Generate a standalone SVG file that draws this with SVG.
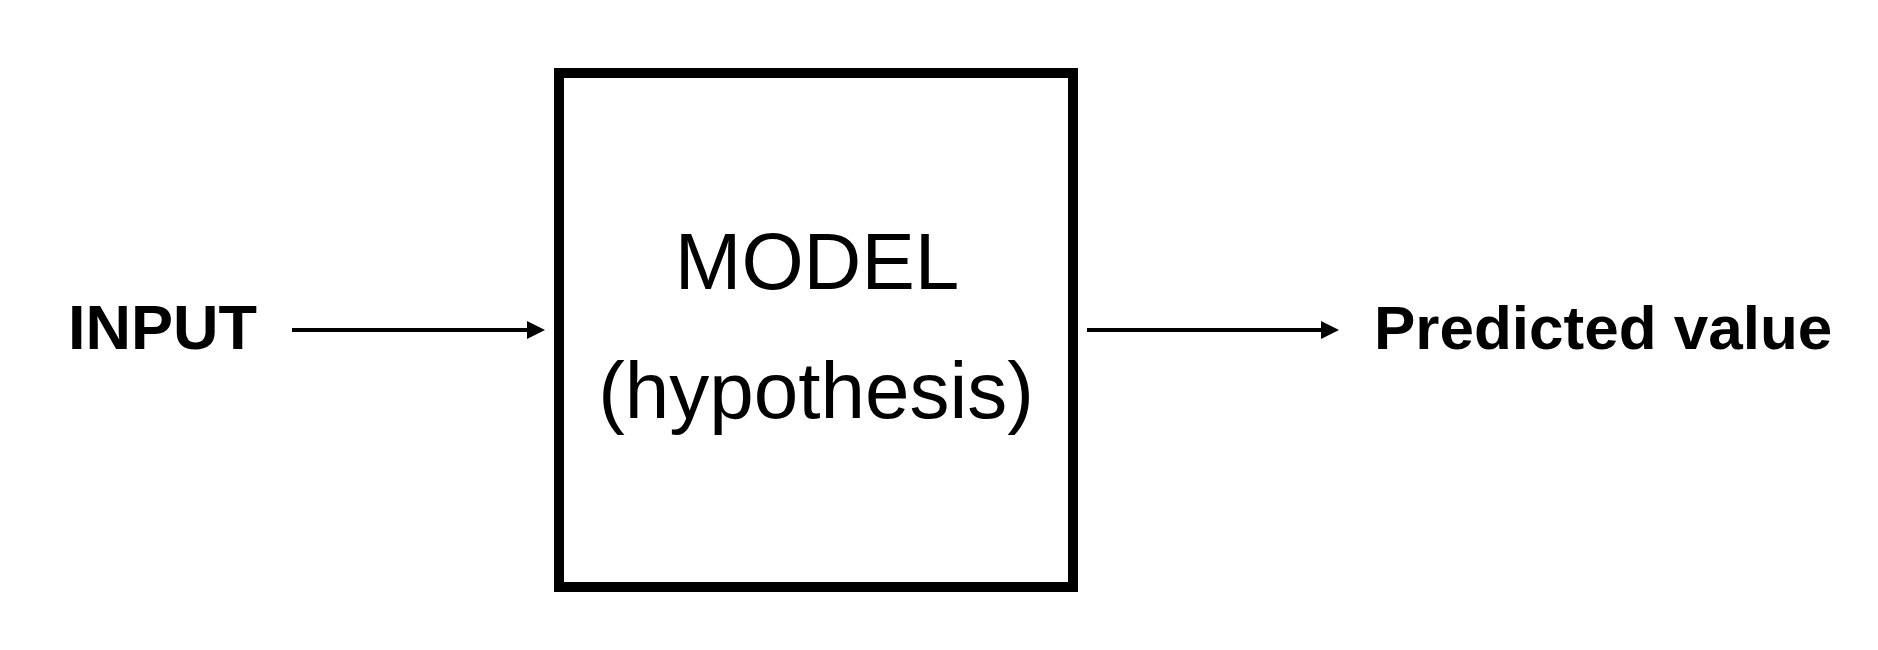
<svg xmlns="http://www.w3.org/2000/svg" width="1878" height="650" viewBox="0 0 1878 650">
<style>
.lbl{font-family:"Liberation Sans",Arial,sans-serif;fill:#000}
.side{font-size:63px;font-weight:bold}
.mid{font-size:80px}
.conn{stroke:#000;stroke-width:4;fill:none}
</style>
<defs>
<marker id="ah" markerWidth="18" markerHeight="18" refX="0" refY="9" orient="auto" markerUnits="userSpaceOnUse">
<path d="M0,0 L18,9 L0,18 Z" fill="#000"/>
</marker>
</defs>
<rect width="1878" height="650" fill="#fff"/>
<g id="input">
<text class="lbl side" x="68" y="349">INPUT</text>
</g>
<g id="model">
<rect x="559" y="73" width="514" height="514" fill="#fff" stroke="#000" stroke-width="10"/>
<text class="lbl mid" x="817" y="289" text-anchor="middle">MODEL</text>
<text class="lbl mid" x="816" y="418" text-anchor="middle">(hypothesis)</text>
</g>
<g id="output">
<text class="lbl side" x="1374" y="349" style="font-size:62px">Predicted value</text>
</g>
<g id="connectors">
<line class="conn" x1="292" y1="330" x2="527" y2="330" marker-end="url(#ah)"/>
<line class="conn" x1="1087" y1="330" x2="1321" y2="330" marker-end="url(#ah)"/>
</g>
</svg>
